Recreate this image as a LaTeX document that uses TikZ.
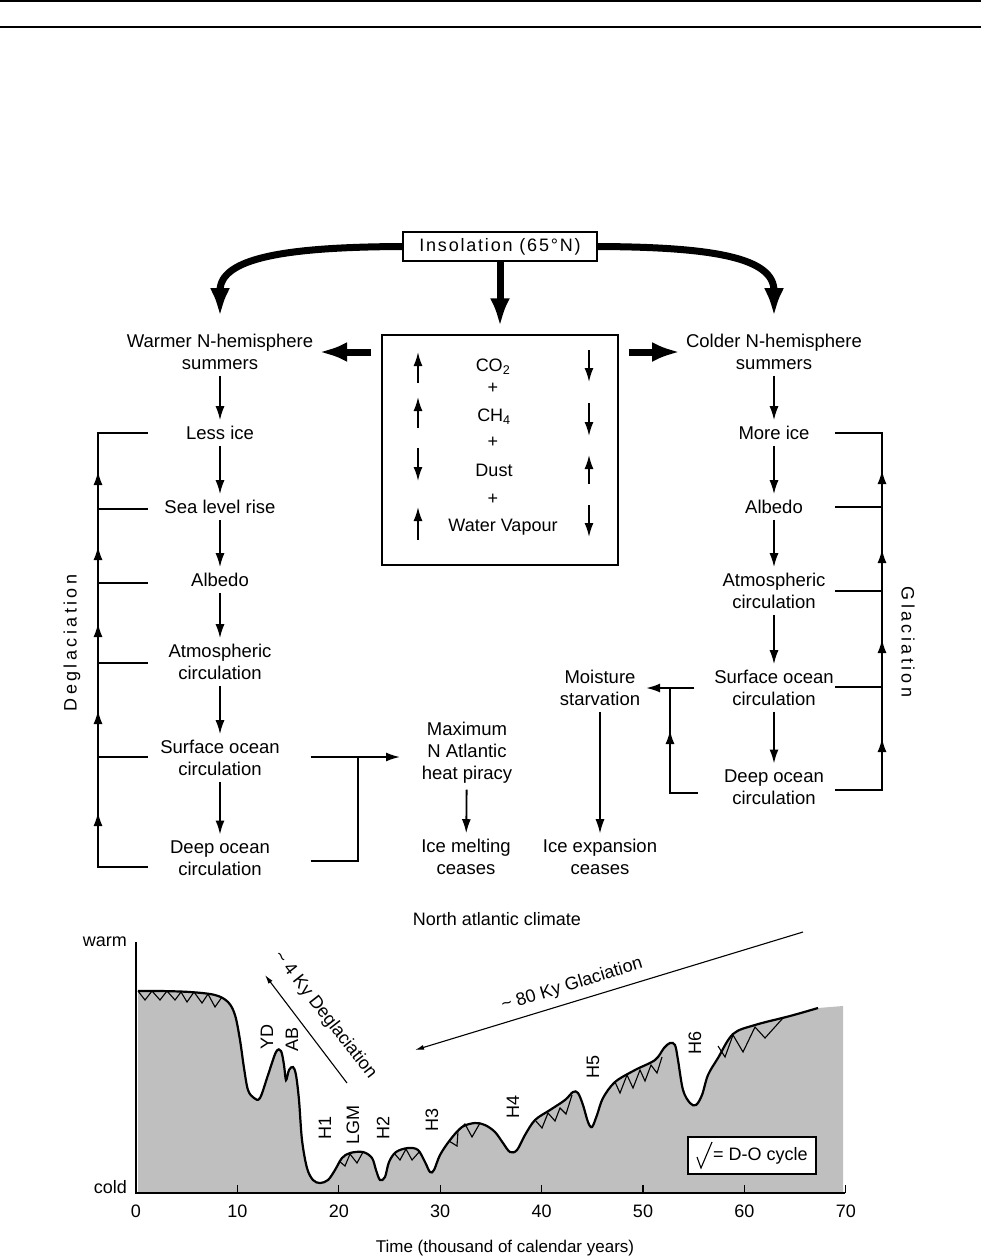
\documentclass[tikz,border=0pt]{standalone}
\usepackage{fontspec}
\setmainfont{Liberation Sans}
\newfontfamily\spacedfont[LetterSpace=10]{Liberation Sans}
\newfontfamily\widefont[LetterSpace=19]{Liberation Sans}
\usetikzlibrary{arrows.meta}

\begin{document}
\begin{tikzpicture}[x=1pt,y=-1pt,
  txt/.style={font=\fontsize{18.5}{22}\selectfont, align=center, inner sep=0pt, outer sep=6pt},
  lbl/.style={font=\fontsize{18}{22}\selectfont, inner sep=0pt},
  arr/.style={line width=1.8pt, -{Latex[length=14pt,width=9pt]}},
  thinarr/.style={line width=1.2pt, -{Latex[length=14pt,width=9pt]}},
  slimarr/.style={line width=1.1pt, -{Latex[length=9pt,width=5pt]}},
  fat/.style={line width=7pt, -{Latex[length=28pt,width=20pt]}},
  fb/.style={line width=1.8pt},
  dom/.style={line width=1.1pt}]
\useasboundingbox (0,0) rectangle (981,1259);

% rules at the top
\draw[line width=2pt] (0,1) -- (981,1);
\draw[line width=2pt] (0,27) -- (981,27);

% insolation and gases
\node[draw, line width=1.2pt, minimum width=194pt, minimum height=29pt, inner sep=0pt,
      font=\fontsize{18}{22}\spacedfont] (ins) at (500,246.5) {Insolation (65°N)};
\node[draw, line width=1.2pt, minimum width=236pt, minimum height=230pt, inner sep=0pt] (gases) at (500,450) {};
\node[lbl] (co2) at (493,367) {CO\textsubscript{2}};
\node[lbl] at (493,388) {+};
\node[lbl] (ch4) at (494,417) {CH\textsubscript{4}};
\node[lbl] at (493,442) {+};
\node[lbl] (dust) at (494,470) {Dust};
\node[lbl] at (493,499) {+};
\node[lbl] (vap) at (503,527) {Water Vapour};

\draw[arr] (418,383) -- (418,352);
\draw[arr] (418,428) -- (418,397);
\draw[arr] (418,448) -- (418,481);
\draw[arr] (418,540) -- (418,507);
\draw[arr] (589,350) -- (589,382);
\draw[arr] (589,403) -- (589,436);
\draw[arr] (589,484) -- (589,455);
\draw[arr] (589,505) -- (589,537);

% the two chains
\coordinate (l1) at (220,352); \coordinate (l2) at (220,433); \coordinate (l3) at (220,507);
\coordinate (l4) at (220,580); \coordinate (l5) at (220,662); \coordinate (l6) at (220,758);
\coordinate (l7) at (220,858);
\coordinate (r1) at (774,352); \coordinate (r2) at (774,433); \coordinate (r3) at (774,507);
\coordinate (r4) at (774,591); \coordinate (r5) at (774,688); \coordinate (r6) at (774,787);

\node[txt] (warm) at (l1) {Warmer N-hemisphere\\summers};
\node[txt] (lessice) at (l2) {Less ice};
\node[txt] (sealevel) at (l3) {Sea level rise};
\node[txt] (albedoL) at (l4) {Albedo};
\node[txt] (atmosL) at (l5) {Atmospheric\\circulation};
\node[txt] (surfL) at (l6) {Surface ocean\\circulation};
\node[txt] (deepL) at (l7) {Deep ocean\\circulation};

\node[txt] (cold) at (r1) {Colder N-hemisphere\\summers};
\node[txt] (moreice) at (r2) {More ice};
\node[txt] (albedoR) at (r3) {Albedo};
\node[txt] (atmosR) at (r4) {Atmospheric\\circulation};
\node[txt] (surfR) at (r5) {Surface ocean\\circulation};
\node[txt] (deepR) at (r6) {Deep ocean\\circulation};

\node[txt] (piracy) at (467,753) {Maximum\\N Atlantic\\heat piracy};
\node[txt] (melt) at (466,857) {Ice melting\\ceases};
\node[txt] (moist) at (600,688) {Moisture\\starvation};
\node[txt] (expand) at (600,857) {Ice expansion\\ceases};

\draw[fat, shorten >=12pt] (ins.west) .. controls (285,247) and (220,258) .. (warm.north);
\draw[fat, shorten >=12pt] (ins.east) .. controls (715,247) and (774,258) .. (cold.north);
\draw[fat, shorten >=8pt] (ins.south) -- (gases.north);
\draw[fat, shorten <=10pt] (gases.west |- warm.east) -- (warm.east);
\draw[fat, shorten <=10pt] (gases.east |- cold.west) -- (cold.west);

\foreach \a/\b in {warm/lessice, lessice/sealevel, sealevel/albedoL, albedoL/atmosL,
                   atmosL/surfL, surfL/deepL, cold/moreice, moreice/albedoR,
                   albedoR/atmosR, atmosR/surfR, surfR/deepR, piracy/melt}
  \draw[arr] (\a) -- (\b);
\draw[thinarr] (moist) -- (expand);

% deglaciation loop
\draw[fb] (148,867) -- (98,867) -- (98,433) -- (148,433);
\foreach \y in {509,583,663,757} \draw[fb] (98,\y) -- (148,\y);
\foreach \y in {471,546,623,710,812} \draw[arr] (98,\y+10) -- (98,\y);
\node[rotate=90, font=\fontsize{18}{22}\widefont] at (72,643) {Deglaciation};

\draw[arr] ([xshift=25pt]surfL.east |- 0,757) -- (400,757);
\draw[fb] ([xshift=25pt]surfL.east |- 0,861) -| (358,757);

% glaciation loop
\draw[fb] (835,433) -- (882,433) -- (882,790) -- (835,790);
\foreach \y in {507,687} \draw[fb] (835,\y) -- (882,\y);
\draw[line width=1.1pt] (835,591) -- (882,591);
\foreach \y in {470,549,639,738} \draw[arr] (882,\y+10) -- (882,\y);
\node[rotate=-90, font=\fontsize{18}{22}\widefont] at (908,642) {Glaciation};

\draw[fb] (698,793) -- (670,793) -- (670,687);
\draw[arr] (670,742) -- (670,730);
\draw[arr] ([xshift=-14pt]surfR.west) -- (moist.east);

% north atlantic climate record
\node[lbl] at (497,919) {North atlantic climate};
\fill[black!25] plot[smooth, tension=0.55] coordinates {(138,991) (160,991) (190,992) (215,995)
  (228,1002) (235,1015) (240,1040) (244,1068) (248,1090) (254,1098) (260,1098) (268,1075)
  (276,1052) (281,1051) (284,1065) (286,1080) (289,1070) (293,1067) (296,1075) (299,1100)
  (302,1140) (307,1168) (313,1180) (320,1183) (328,1180) (335,1170) (342,1158) (350,1153)
  (363,1152) (372,1158) (376,1170) (380,1180) (385,1177) (389,1162) (396,1152) (408,1148)
  (418,1150) (425,1162) (430,1172) (434,1170) (440,1155) (450,1140) (462,1127) (475,1123)
  (485,1125) (495,1132) (503,1143) (510,1152) (517,1150) (525,1135) (535,1120) (550,1110)
  (565,1100) (573,1092) (578,1093) (583,1105) (588,1122) (592,1127) (597,1115) (603,1098)
  (615,1082) (635,1070) (655,1060) (664,1048) (670,1043) (675,1045) (678,1060) (683,1090)
  (690,1103) (696,1105) (702,1095) (708,1075) (718,1058) (733,1034) (755,1025) (790,1016)
  (818,1008)} -- (843,1006) -- (843,1193) -- (138,1193) -- cycle;
\draw[line width=2.2pt] plot[smooth, tension=0.55] coordinates {(138,991) (160,991) (190,992) (215,995)
  (228,1002) (235,1015) (240,1040) (244,1068) (248,1090) (254,1098) (260,1098) (268,1075)
  (276,1052) (281,1051) (284,1065) (286,1080) (289,1070) (293,1067) (296,1075) (299,1100)
  (302,1140) (307,1168) (313,1180) (320,1183) (328,1180) (335,1170) (342,1158) (350,1153)
  (363,1152) (372,1158) (376,1170) (380,1180) (385,1177) (389,1162) (396,1152) (408,1148)
  (418,1150) (425,1162) (430,1172) (434,1170) (440,1155) (450,1140) (462,1127) (475,1123)
  (485,1125) (495,1132) (503,1143) (510,1152) (517,1150) (525,1135) (535,1120) (550,1110)
  (565,1100) (573,1092) (578,1093) (583,1105) (588,1122) (592,1127) (597,1115) (603,1098)
  (615,1082) (635,1070) (655,1060) (664,1048) (670,1043) (675,1045) (678,1060) (683,1090)
  (690,1103) (696,1105) (702,1095) (708,1075) (718,1058) (733,1034) (755,1025) (790,1016)
  (818,1008)};

% D-O cycles
\draw[dom] (138,991) -- (145,1000) -- (152,991) -- (160,1000) -- (167,991) -- (175,1000) -- (181,992)
  -- (187,1002) -- (194,992) -- (202,1003) -- (208,994) -- (215,1007) -- (222,997);
\draw[dom] (339,1161) -- (345,1166) -- (350,1154) -- (357,1163) -- (363,1152);
\draw[dom] (394,1153) -- (400,1160) -- (406,1149) -- (412,1160) -- (420,1151);
\draw[dom] (449,1141) -- (457,1146) -- (458,1131) -- (465,1124) -- (472,1137) -- (480,1123);
\draw[dom] (535,1120) -- (542,1128) -- (548,1113) -- (555,1121) -- (560,1108) -- (566,1114) -- (572,1095);
\draw[dom] (615,1082) -- (620,1093) -- (627,1075) -- (633,1088) -- (640,1070) -- (645,1081)
  -- (651,1065) -- (657,1073) -- (662,1057);
\draw[dom] (718,1046) -- (725,1057) -- (733,1035) -- (743,1052) -- (755,1027) -- (765,1038) -- (783,1018);

% axes
\draw[line width=1.5pt] (136,942) -- (136,1193) -- (845,1193);
\foreach \i in {1,...,7} \draw[line width=1.2pt] (136+\i*101.4,1193) -- ++(0,-8);
\foreach \i in {0,...,7} \node[lbl] at (136+\i*101.4,1211) {\the\numexpr\i*10\relax};
\node[lbl, anchor=east] at (127,942) {warm};
\node[lbl, anchor=east] at (127,1187) {cold};
\node[lbl, font=\fontsize{17}{20}\selectfont] at (505,1248) {Time (thousand of calendar years)};

% events
\foreach \t/\px/\py in {YD/267/1037, AB/292/1039, H1/325/1128, LGM/353/1125, H2/383/1128,
                        H3/432/1120, H4/513/1107, H5/593/1067, H6/695/1043}
  \node[lbl, rotate=90] at (\px,\py) {\t};

\draw[slimarr] (347,1083) -- (265,975);
\node[lbl, rotate=-52] at (325,1015) {\textasciitilde\ 4 Ky Deglaciation};
\draw[slimarr] (803,932) -- (415,1050);
\node[lbl, rotate=17] at (572,985) {\textasciitilde\ 80 Ky Glaciation};

% legend
\node[draw, line width=1.2pt, fill=white, minimum width=128pt, minimum height=37pt] (legend) at (752,1155.5) {};
\draw[dom] (697,1157) -- (701,1168) -- (712,1142);
\node[lbl, anchor=west] at (713,1156) {= D-O cycle};
\end{tikzpicture}
\end{document}
